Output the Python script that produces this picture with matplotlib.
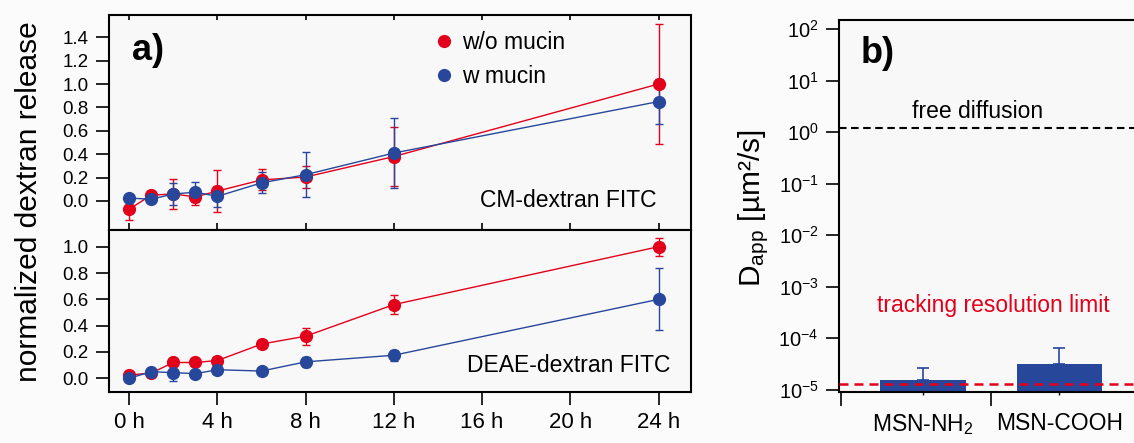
import numpy as np
import matplotlib
matplotlib.use("Agg")
import matplotlib.pyplot as plt
from matplotlib.lines import Line2D
from matplotlib.markers import TICKDOWN
from matplotlib.ticker import FixedLocator, FuncFormatter, NullLocator

plt.rcParams['font.family'] = ['Liberation Sans', 'DejaVu Sans']
plt.rcParams['mathtext.fontset'] = 'custom'
plt.rcParams['mathtext.rm'] = 'Liberation Sans'
plt.rcParams['mathtext.it'] = 'Liberation Sans:italic'
plt.rcParams['mathtext.bf'] = 'Liberation Sans:bold'

# ---------------- data ----------------
hours = [0, 1, 2, 3, 4, 6, 8, 12, 24]
x_tick_hours = [0, 4, 8, 12, 16, 20, 24]

# CM-dextran FITC
cm_wo = [-0.07, 0.05, 0.06, 0.035, 0.085, 0.18, 0.205, 0.38, 1.00]
cm_wo_err = [0.09, 0.03, 0.13, 0.065, 0.18, 0.09, 0.095, 0.25, 0.51]
cm_w = [0.025, 0.015, 0.06, 0.075, 0.04, 0.155, 0.225, 0.41, 0.85]
cm_w_err = [0.03, 0.03, 0.09, 0.085, 0.09, 0.09, 0.19, 0.30, 0.195]

# DEAE-dextran FITC
deae_wo = [0.025, 0.04, 0.12, 0.12, 0.135, 0.26, 0.32, 0.56, 1.00]
deae_wo_err = [0.01, 0.01, 0.015, 0.015, 0.02, 0.02, 0.065, 0.07, 0.07]
deae_w = [0.0, 0.05, 0.043, 0.035, 0.065, 0.055, 0.125, 0.175, 0.60]
deae_w_err = [0.01, 0.03, 0.06, 0.01, 0.02, 0.01, 0.04, 0.04, 0.235]

series_labels = ['w/o mucin', 'w mucin']

# Apparent diffusion coefficients
particles = ['MSN-NH$_2$', 'MSN-COOH']
d_app = np.array([1.52e-5, 3.21e-5])
d_app_err = np.array([1.12e-5, 3.26e-5])
free_diffusion = 1.22
tracking_limit = 1.31e-5

# ---------------- style ----------------
RED = '#e2001a'
BLUE = '#27479b'
BG = '#f8f8f9'
SPINE_W = 1.5

fig = plt.figure(figsize=(11.34, 4.43), dpi=100, facecolor='#fbfbfb')

ax_top = fig.add_axes([0.09568, 0.48081, 0.51323, 0.48533])
ax_bot = fig.add_axes([0.09568, 0.11580, 0.51323, 0.36501])
ax_b = fig.add_axes([0.73959, 0.11445, 0.2634, 0.84041])


def draw_series(ax, y, err, color):
    ax.errorbar(hours, y, yerr=err, color=color, lw=1.0, elinewidth=1.0,
                capsize=3, capthick=1.0, marker='o', ms=8.5, mec=color,
                mfc=color)


draw_series(ax_top, cm_wo, cm_wo_err, RED)
draw_series(ax_top, cm_w, cm_w_err, BLUE)
draw_series(ax_bot, deae_wo, deae_wo_err, RED)
draw_series(ax_bot, deae_w, deae_w_err, BLUE)

for ax in (ax_top, ax_bot):
    ax.set_facecolor(BG)
    for s in ax.spines.values():
        s.set_linewidth(SPINE_W)
    ax.set_xlim(-0.94, 25.45)
    ax.xaxis.set_major_locator(FixedLocator(x_tick_hours))
    ax.yaxis.set_major_formatter(FuncFormatter(lambda v, p: f'{v:.1f}'))
    ax.tick_params(axis='y', direction='out', length=9.5, width=1.2,
                   labelsize=13.5, pad=5, right=False)

ax_top.set_ylim(-0.248, 1.59)
ax_top.set_yticks(np.arange(0, 1.41, 0.2))
ax_top.tick_params(axis='x', top=True, bottom=True, labelbottom=False,
                   direction='inout', length=10, width=1.2)
# top edge: short ticks pointing into the panel
for t in ax_top.xaxis.get_major_ticks():
    t.tick2line.set_marker(TICKDOWN)
    t.tick2line.set_markersize(3.5)

ax_bot.set_ylim(-0.102, 1.127)
ax_bot.set_yticks(np.arange(0, 1.01, 0.2))
ax_bot.xaxis.set_major_formatter(FuncFormatter(lambda v, p: f'{int(v)} h'))
ax_bot.tick_params(axis='x', direction='out', length=9.5, width=1.2,
                   labelsize=16, pad=5, top=False)

handles = [Line2D([], [], ls='none', marker='o', ms=9.5, mew=0, color=c)
           for c in (RED, BLUE)]
ax_top.legend(handles, series_labels, loc='center left',
              bbox_to_anchor=(0.5674, 0.793), frameon=False, fontsize=16.5,
              handlelength=0.5, handletextpad=0.5, labelspacing=0.45,
              borderpad=0, borderaxespad=0)

ax_top.text(0.068, 0.837, 'a)', transform=ax_top.transAxes, fontsize=26,
            fontweight='bold', ha='center', va='center')
ax_top.text(0.9424, 0.1395, 'CM-dextran FITC', transform=ax_top.transAxes,
            fontsize=16.5, ha='right', va='center')
ax_bot.text(0.9648, 0.165, 'DEAE-dextran FITC', transform=ax_bot.transAxes,
            fontsize=16.5, ha='right', va='center')

fig.text(29.5 / 1134, 1 - 202 / 443, 'normalized dextran release',
         rotation=90, ha='center', va='center', fontsize=21.5)

# ---------------- panel b ----------------
ax_b.set_facecolor(BG)
for s in ax_b.spines.values():
    s.set_linewidth(SPINE_W)
ax_b.set_yscale('log')
ax_b.set_ylim(10 ** -5.049, 10 ** 2.181)
xpos = np.arange(len(particles))
ax_b.set_xlim(-0.615, 1.570)
base = 1e-6
ax_b.bar(xpos, d_app - base, bottom=base, width=0.627, color=BLUE, zorder=2)
ax_b.errorbar(xpos, d_app, yerr=[np.zeros_like(d_app_err), d_app_err],
              fmt='none', ecolor=BLUE, elinewidth=1.2, capsize=4,
              capthick=1.2, zorder=2)
ax_b.axhline(free_diffusion, color='black', lw=1.5, dashes=(3.6, 2.2),
             zorder=3)
ax_b.axhline(tracking_limit, color=RED, lw=1.8, dashes=(3.6, 2.4), zorder=3)

ax_b.yaxis.set_major_locator(FixedLocator([10.0 ** k for k in range(-5, 3)]))
ax_b.yaxis.set_minor_locator(NullLocator())
ax_b.yaxis.set_major_formatter(
    FuncFormatter(lambda v, p: r'$\mathregular{10^{%d}}$' % round(np.log10(v))))
ax_b.tick_params(axis='y', direction='out', length=9.5, width=1.2,
                 labelsize=14.5, pad=5)

ax_b.xaxis.set_major_locator(FixedLocator([-0.6, 0.5]))
ax_b.xaxis.set_major_formatter(FuncFormatter(lambda v, p: ''))
ax_b.tick_params(axis='x', which='major', direction='out', length=10,
                 width=1.2)
ax_b.xaxis.set_minor_locator(FixedLocator(xpos))
ax_b.xaxis.set_minor_formatter(
    FuncFormatter(lambda v, p: particles[int(round(v))]))
ax_b.tick_params(axis='x', which='minor', direction='out', length=2.5,
                 width=1.0, labelsize=16.5, pad=12)

ax_b.text(0.1316, 0.911, 'b)', transform=ax_b.transAxes, fontsize=26,
          fontweight='bold', ha='center', va='center')
ax_b.text(0.4647, 0.7535, 'free diffusion', transform=ax_b.transAxes,
          fontsize=16.5, ha='center', va='center')
ax_b.text(0.5166, 0.2339, 'tracking resolution limit',
          transform=ax_b.transAxes, fontsize=16.5, color=RED,
          ha='center', va='center')

fig.text(754 / 1134, 1 - 208 / 443, r'D$_{\mathregular{app}}$ [µm²/s]',
         rotation=90, ha='center', va='center', fontsize=21.5)

fig.savefig('out.png', dpi=100, facecolor=fig.get_facecolor())
